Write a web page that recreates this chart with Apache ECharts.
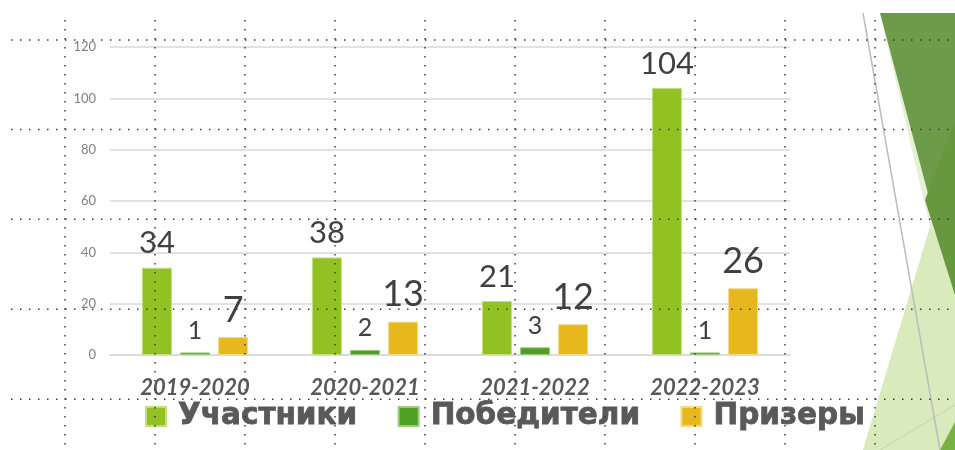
<!DOCTYPE html>
<html>
<head>
<meta charset="utf-8">
<script src="https://cdn.jsdelivr.net/npm/echarts@6/dist/echarts.min.js"></script>
<style>
  html, body { margin: 0; padding: 0; background: #fff; }
  #main { width: 955px; height: 450px; }
</style>
</head>
<body>
<div id="main"></div>
<script>
// data
const categories = ["2019-2020", "2020-2021", "2021-2022", "2022-2023"];
const participants = [34, 38, 21, 104];
const winners = [1, 2, 3, 1];
const prizewinners = [7, 13, 12, 26];
const seriesNames = ["Участники", "Победители", "Призеры"];
const yTicks = { min: 0, max: 120, interval: 20 };

const chart = echarts.init(document.getElementById("main"));

// dotted slide guides (decoration)
const guides = [];
[40, 129.5, 219.3, 309.3, 399.3].forEach(function (y) {
  guides.push({
    type: "line", z: 100, silent: true,
    shape: { x1: 11, y1: y, x2: 955, y2: y },
    style: { stroke: "#3a3a3a", lineWidth: 1.5, lineDash: [1.5, 7.5] }
  });
});
for (let i = 0; i < 10; i++) {
  let x = 65 + i * 90;
  guides.push({
    type: "line", z: 100, silent: true,
    shape: { x1: x, y1: 20, x2: x, y2: 450 },
    style: { stroke: "#3a3a3a", lineWidth: 1.5, lineDash: [1.5, 7.5] }
  });
}

// facet shapes on the right
const facets = [
  { type: "polygon", z: -1, silent: true,
    shape: { points: [[880, 13], [955, 13], [955, 450], [863, 450], [930, 227]] },
    style: { fill: "#e6f0d6" } },
  { type: "polygon", z: -1, silent: true,
    shape: { points: [[930, 227], [955, 262], [955, 450], [863, 450]] },
    style: { fill: "#d9eabd" } },
  { type: "polygon", z: -1, silent: true,
    shape: { points: [[880, 13], [955, 13], [955, 295]] },
    style: { fill: "#6d9b49" } },
  { type: "polygon", z: -1, silent: true,
    shape: { points: [[925, 200], [955, 120], [955, 295]] },
    style: { fill: "#67983f" } },
  { type: "polygon", z: -1, silent: true,
    shape: { points: [[940, 450], [955, 422], [955, 450]] },
    style: { fill: "#78b244" } },
  { type: "line", z: -1, silent: true,
    shape: { x1: 880, y1: 450, x2: 955, y2: 405 },
    style: { stroke: "#c3d8a5", lineWidth: 1 } },
  { type: "line", z: -1, silent: true,
    shape: { x1: 863, y1: 13, x2: 940, y2: 450 },
    style: { stroke: "#bdbdbd", lineWidth: 1.5 } }
];

function labelOf(size) {
  return {
    show: true,
    position: "top",
    distance: 9,
    fontFamily: "Lato",
    fontSize: size,
    color: "#404040"
  };
}

const option = {
  animation: false,
  backgroundColor: "#fff",
  graphic: facets.concat(guides),
  grid: { left: 110, right: 165, top: 47, bottom: 95 },
  legend: {
    left: 140,
    top: 396,
    itemWidth: 20,
    itemHeight: 19,
    itemGap: 40,
    icon: "rect",
    data: seriesNames,
    textStyle: {
      fontFamily: "DejaVu Sans",
      fontWeight: "bold",
      fontSize: 29.5,
      color: "#595959",
      textBorderColor: "#595959",
      textBorderWidth: 0.8,
      padding: [0, 0, 0, 7]
    }
  },
  xAxis: {
    type: "category",
    data: categories,
    axisTick: { show: false },
    axisLine: { lineStyle: { color: "#d9d9d9", width: 1.5 } },
    axisLabel: {
      margin: 22,
      fontFamily: "Lato",
      fontStyle: "italic",
      fontWeight: "bold",
      fontSize: 22,
      color: "#595959"
    }
  },
  yAxis: {
    type: "value",
    min: yTicks.min,
    max: yTicks.max,
    interval: yTicks.interval,
    axisLine: { show: false },
    axisTick: { show: false },
    splitLine: { lineStyle: { color: "#d9d9d9", width: 1.5 } },
    axisLabel: {
      margin: 14,
      fontFamily: "Lato",
      fontSize: 13,
      color: "#808080"
    }
  },
  series: [
    {
      name: seriesNames[0], type: "bar", data: participants,
      barWidth: 30, barGap: "27%",
      itemStyle: { color: "#92c123", borderColor: "#c2de7e", borderWidth: 1 },
      label: labelOf(31)
    },
    {
      name: seriesNames[1], type: "bar", data: winners,
      barWidth: 30, barGap: "27%",
      itemStyle: { color: "#4e9f24", borderColor: "#9ccb7e", borderWidth: 1 },
      label: labelOf(25)
    },
    {
      name: seriesNames[2], type: "bar", data: prizewinners,
      barWidth: 30, barGap: "27%",
      itemStyle: { color: "#e6b81e", borderColor: "#f3d98a", borderWidth: 1 },
      label: labelOf(36)
    }
  ]
};

chart.setOption(option);
</script>
</body>
</html>
